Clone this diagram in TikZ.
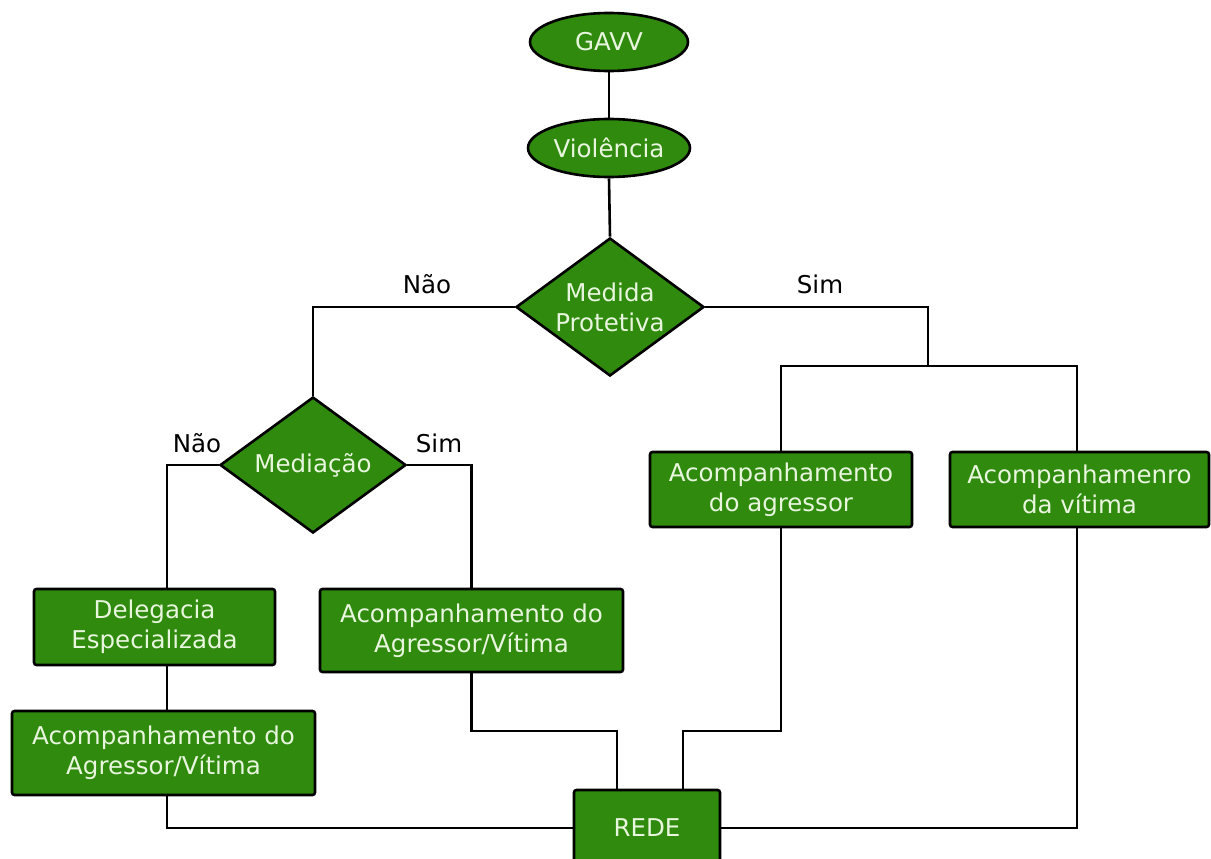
\documentclass[tikz,border=0pt]{standalone}
\usepackage{fontspec}
\setmainfont{DejaVu Sans}
\usetikzlibrary{shapes.geometric}
\definecolor{boxgreen}{RGB}{47,138,14}
\definecolor{boxtext}{RGB}{232,246,222}
\tikzset{
  base/.style={draw=black, line width=2.6pt, fill=boxgreen, text=boxtext, inner sep=0pt, align=center,
     font=\fontsize{24.5}{30}\selectfont},
  oval/.style={base, ellipse},
  diam/.style={base, diamond},
  stepbox/.style={base, rectangle, rounded corners=2.5pt},
  txt/.style={text=boxtext, align=center, font=\fontsize{24.5}{30}\selectfont},
  lbl/.style={text=black, font=\fontsize{24.5}{30}\selectfont},
  conn/.style={draw=black, line width=2.6pt}
}
\begin{document}
\begin{tikzpicture}[x=1pt,y=-1pt]
\useasboundingbox (0,0) rectangle (1211,859);
\clip (0,0) rectangle (1211,859);
\fill[white] (0,0) rectangle (1211,859);
% nodes
\node[oval, minimum width=158pt, minimum height=58pt] (gavv) at (609,42) {GAVV};
\node[oval, minimum width=162pt, minimum height=58pt] (viol) at (609,148) {Violência};
\node[diam, minimum width=188pt, minimum height=138pt] (mp) at (610,307) {};
\node[txt] at (mp) {Medida\\Protetiva};
\node[diam, minimum width=186pt, minimum height=136pt] (med) at (313,465) {};
\node[txt] at (med) {Mediação};
\node[stepbox, minimum width=241pt, minimum height=76pt] (del) at (154.5,627) {Delegacia\\Especializada};
\node[stepbox, minimum width=303pt, minimum height=84pt] (acL) at (163.5,753) {Acompanhamento do\\Agressor/Vítima};
\node[stepbox, minimum width=303pt, minimum height=83pt] (acM) at (471.5,630.5) {Acompanhamento do\\Agressor/Vítima};
\node[stepbox, minimum width=262pt, minimum height=75pt] (agr) at (781,489.5) {Acompanhamento\\do agressor};
\node[stepbox, minimum width=259pt, minimum height=75pt] (vit) at (1079.5,489.5) {Acompanhamenro\\da vítima};
\node[stepbox, minimum width=146pt, minimum height=76pt] (rede) at (647,828) {REDE};
% helper coordinates
\coordinate (cL) at (167,0);
\coordinate (cR) at (1077,0);
\coordinate (jR) at (928,366);
\coordinate (h1) at (0,731);
% connectors
\draw[conn] (gavv.south) -- (viol.north);
\draw[conn] (viol.south) -- (mp.north);
\draw[conn] (mp.west) -| (med.north);
\draw[conn] (mp.east) -| (jR);
\draw[conn] (agr.north) -- (agr.north |- jR) -- (cR |- jR) -- (vit.north -| cR);
\draw[conn] (med.west) -| (del.north -| cL);
\draw[conn] (med.east) -| (acM.north);
\draw[conn] (del.south -| cL) -- (acL.north -| cL);
\draw[conn] (acL.south -| cL) |- (rede.west);
\draw[conn] (acM.south) -- (acM.south |- h1) -| ([xshift=-30pt]rede.north);
\draw[conn] (agr.south) -- (agr.south |- h1) -| ([xshift=36pt]rede.north);
\draw[conn] (vit.south -| cR) |- (rede.east);
% labels
\node[lbl] (l1) at (427,284) {Não};
\node[lbl] (l2) at (820,284) {Sim};
\node[lbl] (l3) at (197,443) {Não};
\node[lbl] (l4) at (439,443) {Sim};
\end{tikzpicture}
\end{document}
